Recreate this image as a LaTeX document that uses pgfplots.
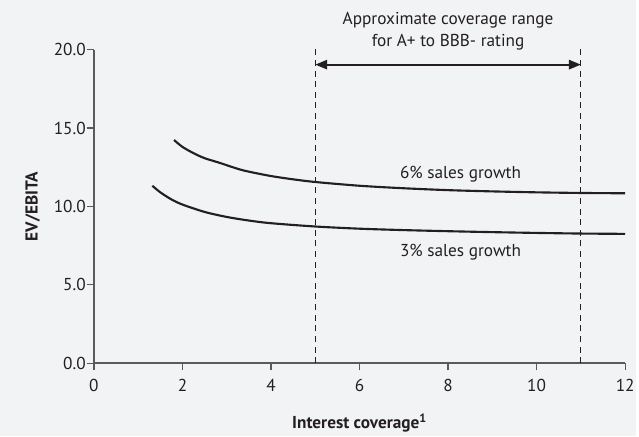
\documentclass[border=0pt]{standalone}
\usepackage{pgfplots}
\pgfplotsset{compat=1.18}
\usepackage{fontspec}
\setmainfont{PT Sans}
\usetikzlibrary{arrows.meta}
\definecolor{bgc}{HTML}{F2F3F5}
\definecolor{axgray}{HTML}{5A5A5A}
\definecolor{ink}{HTML}{231F20}

\begin{document}
\begin{tikzpicture}[font=\fontsize{13}{16.5}\selectfont]
\fill[bgc] (-70.8pt,-54.75pt) rectangle (408.45pt,273.75pt);
\begin{axis}[
    scale only axis,
    width=400.5pt, height=236.25pt,
    xmin=0, xmax=12, ymin=0, ymax=20,
    axis x line*=bottom, axis y line*=left,
    xtick={0,2,...,12}, ytick={0,5,...,20},
    tick align=outside, major tick length=5.5pt,
    axis line style={draw=axgray, line width=1pt},
    tick style={axgray, line width=0.9pt},
    /pgf/number format/assume math mode=true,
    yticklabel style={/pgf/number format/fixed, /pgf/number format/fixed zerofill,
        /pgf/number format/precision=1, inner xsep=0.5pt},
    xticklabel style={yshift=-3pt},
    ticklabel style={text=ink},
    xlabel={\textbf{Interest coverage\textsuperscript{1}}},
    ylabel={\textbf{EV/EBITA}},
    xlabel style={at={(axis description cs:0.5,-0.19)}, anchor=center, text=ink},
    ylabel style={at={(axis description cs:-0.115,0.5)}, anchor=center, text=ink},
    clip=false,
]
% range markers
\addplot[ink, line width=0.7pt, dash pattern=on 4.5pt off 3.5pt] coordinates {(5,0) (5,20.3)};
\addplot[ink, line width=0.7pt, dash pattern=on 4.5pt off 3.5pt] coordinates {(11,0) (11,20.3)};

% 6% sales growth
\addplot[ink, line width=1.6pt, smooth] coordinates {
    (1.81,14.24) (2.0,13.80) (2.25,13.40) (2.5,13.08) (2.82,12.80)
    (3.25,12.40) (3.5,12.22) (4,11.94) (4.5,11.73) (5,11.56)
    (6,11.32) (7,11.16) (8,11.04) (9,10.96) (10,10.90) (11,10.86) (12,10.84)};
% 3% sales growth
\addplot[ink, line width=1.6pt, smooth] coordinates {
    (1.32,11.32) (1.5,10.90) (1.75,10.45) (2.0,10.12) (2.5,9.65)
    (3,9.33) (3.5,9.10) (4,8.93) (5,8.72) (6,8.58) (7,8.49)
    (8,8.42) (9,8.36) (10,8.31) (11,8.27) (12,8.25)};

\node[text=ink] at (axis cs:8.28,12.06) {6\% sales growth};
\node[text=ink] at (axis cs:8.28,7.1) {3\% sales growth};

\draw[ink, line width=1.5pt, {Triangle[length=9pt,width=7pt]}-{Triangle[length=9pt,width=7pt]}]
    (axis cs:5,19.05) -- (axis cs:11,19.05);
\node[text=ink, align=center] at (axis cs:8,21.2)
    {Approximate coverage range\\for A+ to BBB- rating};
\end{axis}
\end{tikzpicture}
\end{document}
